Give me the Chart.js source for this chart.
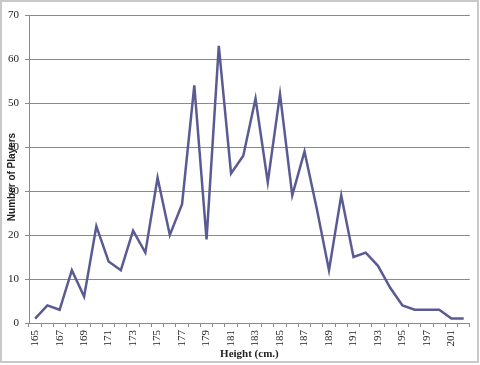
<!DOCTYPE html>
<html>
<head>
<meta charset="utf-8">
<style>
  html, body { margin: 0; padding: 0; background: #fff; }
  #wrap { width: 480px; height: 365px; }
</style>
<script src="https://cdn.jsdelivr.net/npm/chart.js@4/dist/chart.umd.min.js"></script>
</head>
<body>
<div id="wrap"><canvas id="chart" width="480" height="365"></canvas></div>
<script>
// heights (cm) - 198 and 200 have no entries so they're not on the axis
const heights = [165, 166, 167, 168, 169, 170, 171, 172, 173, 174, 175, 176,
  177, 178, 179, 180, 181, 182, 183, 184, 185, 186, 187, 188, 189, 190, 191,
  192, 193, 194, 195, 196, 197, 199, 201, 202];
const players = [1, 4, 3, 12, 6, 22, 14, 12, 21, 16, 33, 20,
  27, 54, 19, 63, 34, 38, 51, 32, 52, 29, 39, 26, 12, 29, 15,
  16, 13, 8, 4, 3, 3, 3, 1, 1];
const yTicks = [0, 10, 20, 30, 40, 50, 60, 70];

const xTitle = "Height (cm.)";
const yTitle = "Number of Players";

// frame around the whole chart + the odd y title placement
const extras = {
  id: "extras",
  afterDraw(chart) {
    const ctx = chart.ctx;
    ctx.save();
    ctx.strokeStyle = "#c9c9c9";
    ctx.lineWidth = 2;
    ctx.strokeRect(1, 1, 477, 361);

    ctx.translate(12, 177);
    ctx.rotate(-Math.PI / 2);
    ctx.fillStyle = "#222";
    ctx.font = "bold 10px 'Liberation Sans'";
    ctx.textAlign = "center";
    ctx.textBaseline = "middle";
    ctx.fillText(yTitle, 0, 0);
    ctx.restore();
  }
};

new Chart(document.getElementById("chart"), {
  type: "line",
  data: {
    labels: heights.map(String),
    datasets: [{
      data: players,
      borderColor: "#5b5b93",
      borderWidth: 2.5,
      pointRadius: 0,
      tension: 0,
      fill: false
    }]
  },
  options: {
    responsive: false,
    animation: false,
    layout: { padding: { top: 15, right: 8, left: 0, bottom: 0 } },
    plugins: { legend: { display: false }, tooltip: { enabled: false } },
    scales: {
      x: {
        offset: true,
        afterFit(s) { s.height = 42; },
        grid: { offset: true, drawOnChartArea: false, tickLength: 4, color: "#8a8a8a" },
        border: { color: "#8a8a8a", width: 1 },
        ticks: {
          autoSkip: false,
          minRotation: 90,
          maxRotation: 90,
          padding: 3,
          color: "#222",
          font: { family: "'Liberation Serif'", size: 11 },
          callback(v, i) { return i % 2 === 0 ? heights[i] : ""; }
        },
        title: {
          display: true,
          text: xTitle,
          color: "#222",
          font: { family: "'Liberation Serif'", size: 11, weight: "bold" },
          padding: { top: 0, bottom: 4 }
        }
      },
      y: {
        min: 0,
        max: 70,
        afterFit(s) { s.width = 29; },
        afterBuildTicks(s) { s.ticks = yTicks.map(v => ({ value: v })); },
        grid: { color: "#8a8a8a", tickLength: 4 },
        border: { color: "#8a8a8a", width: 1 },
        ticks: {
          padding: 6,
          color: "#222",
          font: { family: "'Liberation Serif'", size: 11 }
        }
      }
    }
  },
  plugins: [extras]
});
</script>
</body>
</html>
